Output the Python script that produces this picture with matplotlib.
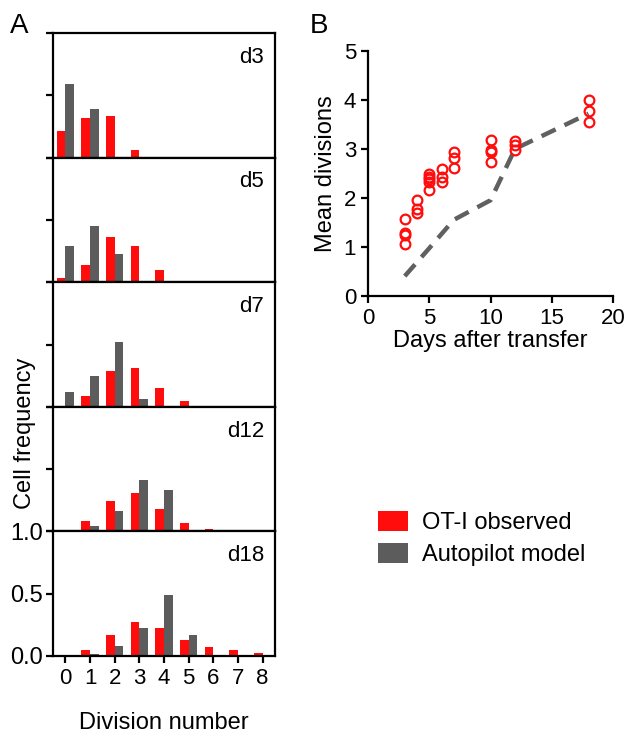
import matplotlib
matplotlib.use('Agg')
import matplotlib.pyplot as plt
from matplotlib.patches import Patch

plt.rcParams['font.family'] = ['Liberation Sans', 'DejaVu Sans']

# ---------------- data ----------------
divisions = [0, 1, 2, 3, 4, 5, 6, 7, 8]
panel_labels = ['d3', 'd5', 'd7', 'd12', 'd18']
obs_d3 = [0.21, 0.32, 0.33, 0.065, 0, 0, 0, 0, 0]
obs_d5 = [0.03, 0.14, 0.36, 0.29, 0.095, 0.01, 0, 0, 0]
obs_d7 = [0, 0.09, 0.29, 0.31, 0.15, 0.045, 0, 0, 0]
obs_d12 = [0.005, 0.085, 0.245, 0.31, 0.18, 0.07, 0.02, 0.005, 0]
obs_d18 = [0, 0.05, 0.17, 0.27, 0.225, 0.13, 0.07, 0.045, 0.025]
mod_d3 = [0.59, 0.39, 0, 0, 0, 0, 0, 0, 0]
mod_d5 = [0.29, 0.45, 0.23, 0, 0, 0, 0, 0, 0]
mod_d7 = [0.12, 0.25, 0.52, 0.065, 0, 0, 0, 0, 0]
mod_d12 = [0.01, 0.045, 0.16, 0.41, 0.335, 0, 0, 0, 0]
mod_d18 = [0, 0.02, 0.08, 0.225, 0.49, 0.17, 0, 0, 0]
observed = [obs_d3, obs_d5, obs_d7, obs_d12, obs_d18]
model = [mod_d3, mod_d5, mod_d7, mod_d12, mod_d18]

obs_days = [3, 3, 3, 3, 4, 4, 4, 5, 5, 5, 5, 5, 6, 6, 6, 7, 7, 7,
            10, 10, 10, 10, 12, 12, 12, 18, 18, 18]
obs_mean = [1.57, 1.29, 1.24, 1.06, 1.96, 1.78, 1.70, 2.48, 2.43, 2.38, 2.33, 2.15,
            2.58, 2.43, 2.33, 2.94, 2.81, 2.60, 3.18, 2.98, 2.93, 2.73,
            3.17, 3.08, 2.98, 3.99, 3.77, 3.54]
model_days = [3, 5, 7, 10, 12, 18]
model_mean = [0.40, 0.97, 1.55, 1.95, 3.00, 3.72]

RED = '#ff0d0d'
GRAY = '#5c5c5c'
W, H = 626, 734

fig = plt.figure(figsize=(W / 100, H / 100), dpi=100)

# ---------------- panel A ----------------
left, right = 53 / W, 275 / W
top_px, bot_px = 33, 656
ph = (bot_px - top_px) / 5
bw = 0.35
x = divisions
for i, lab in enumerate(panel_labels):
    t = top_px + i * ph
    ax = fig.add_axes([left, (H - t - ph) / H, right - left, ph / H])
    ax.bar([v - bw / 2 for v in x], observed[i], width=bw, color=RED)
    ax.bar([v + bw / 2 for v in x], model[i], width=bw, color=GRAY)
    ax.set_xlim(-0.5, 8.5)
    ax.set_ylim(0, 1.0)
    for s in ax.spines.values():
        s.set_linewidth(1.6)
    ax.set_yticks([0, 0.5, 1.0])
    ax.tick_params(axis='y', direction='out', length=5, width=1.6, labelsize=17, pad=2)
    ax.text(0.95, 0.89, lab, transform=ax.transAxes, ha='right', va='top', fontsize=16)
    if i < 4:
        ax.set_yticklabels([])
        ax.set_xticks([])
    else:
        ax.set_yticklabels(['0.0', '0.5', '1.0'])
        ax.set_xticks(x)
        ax.tick_params(axis='x', direction='out', length=5, width=1.6, labelsize=16)
        ax.set_xlabel('Division number', fontsize=17, labelpad=17)

fig.text(25 / W, (H - 433) / H, 'Cell frequency', rotation=90, ha='center', va='center', fontsize=17)
fig.text(10 / W, (H - 13) / H, 'A', ha='left', va='top', fontsize=20)

# ---------------- panel B ----------------
axb = fig.add_axes([368 / W, (H - 295.7) / H, (613 - 368) / W, (295.7 - 51) / H])
axb.plot(model_days, model_mean, color='#606060', lw=3.2, dashes=(3.5, 2.2), zorder=2)
axb.plot(obs_days, obs_mean, 'o', mfc='none', mec=RED, mew=1.6, ms=7, zorder=3)
axb.set_xlim(0, 20)
axb.set_ylim(0, 5)
axb.set_xticks([0, 5, 10, 15, 20])
axb.set_yticks([0, 1, 2, 3, 4, 5])
axb.spines['top'].set_visible(False)
axb.spines['right'].set_visible(False)
for s in ['left', 'bottom']:
    axb.spines[s].set_linewidth(1.6)
axb.tick_params(direction='out', length=5, width=1.6, labelsize=16)
axb.set_xlabel('Days after transfer', fontsize=17, labelpad=1)
axb.set_ylabel('Mean divisions', fontsize=17, labelpad=5)
fig.text(310 / W, (H - 13) / H, 'B', ha='left', va='top', fontsize=20)

# ---------------- legend ----------------
handles = [Patch(facecolor=RED, edgecolor='none'), Patch(facecolor=GRAY, edgecolor='none')]
fig.legend(handles, ['OT-I observed', 'Autopilot model'], loc='upper left',
           bbox_to_anchor=(378 / W, (H - 511) / H), frameon=False, fontsize=17,
           handlelength=1.25, handleheight=0.9, handletextpad=0.6,
           labelspacing=0.4, borderpad=0, borderaxespad=0)

fig.savefig('out.png', dpi=100)
